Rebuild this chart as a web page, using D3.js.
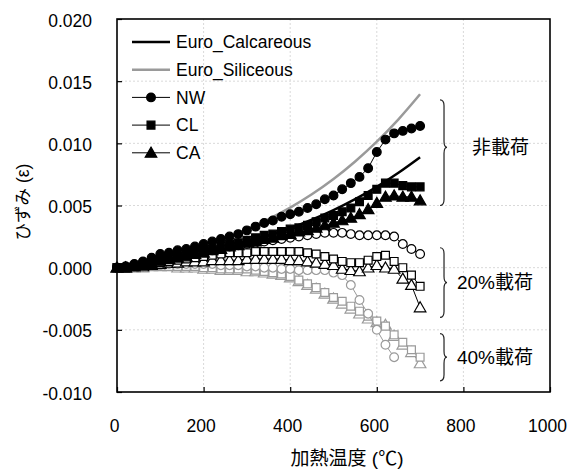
<!DOCTYPE html>
<html><head><meta charset="utf-8">
<script src="https://cdn.jsdelivr.net/npm/d3@7"></script>
<style>
html,body{margin:0;padding:0;background:#fff;}
text{font-family:"Liberation Sans",Arial,"Noto Sans CJK JP",sans-serif;}
</style></head>
<body><svg id="chart" width="573" height="470"></svg>
<script>
// ---- data ----
const temps = [0,20,40,60,80,100,120,140,160,180,200,220,240,260,280,300,320,340,360,380,400,420,440,460,480,500,520,540,560,580,600,620,640,660,680,700];
const euroTemps = [20,50,100,150,200,250,300,350,400,450,500,550,600,650,700];
const euroCalcareous = [0.0000,0.00018,0.00049,0.00083,0.00119,0.00160,0.00206,0.00258,0.00318,0.00386,0.00463,0.00551,0.00650,0.00763,0.00888];
const euroSiliceous  = [-0.00006,0.00021,0.00068,0.00119,0.00174,0.00237,0.00308,0.00390,0.00483,0.00590,0.00713,0.00854,0.01013,0.01193,0.01395];

const nw0  = [0,0.0001,0.0003,0.0005,0.0008,0.0011,0.0012,0.0014,0.0015,0.0017,0.0019,0.0021,0.0023,0.0025,0.0027,0.0030,0.0033,0.0036,0.0038,0.0041,0.0043,0.0045,0.0048,0.0051,0.0055,0.0058,0.0063,0.0068,0.0073,0.0080,0.0093,0.0103,0.0108,0.0110,0.0112,0.0114];
const cl0  = [0,0,0.0001,0.0002,0.0004,0.0006,0.0008,0.0009,0.0011,0.0012,0.0014,0.0015,0.0017,0.0019,0.0020,0.0022,0.0024,0.0026,0.0027,0.0029,0.0031,0.0032,0.0034,0.0037,0.0040,0.0042,0.0045,0.0048,0.0053,0.0058,0.0063,0.0068,0.0068,0.0066,0.0065,0.0065];
const ca0  = [0,0,0.0001,0.0002,0.0003,0.0005,0.0007,0.0008,0.0009,0.0011,0.0012,0.0014,0.0015,0.0017,0.0018,0.0020,0.0021,0.0023,0.0024,0.0026,0.0027,0.0029,0.0030,0.0032,0.0034,0.0036,0.0038,0.0040,0.0043,0.0047,0.0052,0.0057,0.0058,0.0057,0.0057,0.0054];
const nw20 = [0,0.0001,0.0002,0.0004,0.0006,0.0008,0.0009,0.0010,0.0011,0.0012,0.0013,0.0014,0.0016,0.0017,0.0018,0.0019,0.0020,0.0021,0.0022,0.0023,0.0024,0.0025,0.0026,0.0027,0.0028,0.0028,0.0028,0.0027,0.0026,0.0026,0.0026,0.0026,0.0025,0.0019,0.0015,0.0011];
const cl20 = [0,0,0.0001,0.0002,0.0003,0.0004,0.0005,0.0006,0.0007,0.0008,0.0009,0.0010,0.0011,0.0012,0.0012,0.0012,0.0013,0.0013,0.0013,0.0013,0.0013,0.0013,0.0012,0.0011,0.0009,0.0007,0.0005,0.0004,0.0004,0.0006,0.0009,0.0010,0.0005,0.0000,-0.0006,-0.0015];
const ca20 = [0,0,0.0001,0.0001,0.0002,0.0003,0.0004,0.0004,0.0005,0.0005,0.0005,0.0006,0.0006,0.0006,0.0006,0.0007,0.0007,0.0007,0.0007,0.0007,0.0006,0.0006,0.0005,0.0004,0.0003,0.0002,-0.0001,-0.0002,-0.0003,0.0000,0.0002,0.0000,-0.0001,-0.0009,-0.0014,-0.0032];
const nw40 = [0,0,0.0001,0.0001,0.0002,0.0002,0.0003,0.0003,0.0003,0.0003,0.0003,0.0003,0.0002,0.0002,0.0002,0.0001,0.0001,0.0000,0.0000,-0.0001,-0.0001,-0.0002,-0.0002,-0.0002,-0.0002,-0.0004,-0.0006,-0.0014,-0.0026,-0.0037,-0.0050,-0.0062,-0.0072];
const cl40 = [0,0,0,0.0001,0.0001,0.0001,0.0001,0.0001,0.0001,0.0001,0.0000,0.0000,-0.0001,-0.0001,-0.0001,-0.0001,-0.0002,-0.0003,-0.0004,-0.0005,-0.0007,-0.0010,-0.0013,-0.0016,-0.0020,-0.0024,-0.0027,-0.0031,-0.0035,-0.0039,-0.0043,-0.0047,-0.0054,-0.0060,-0.0066,-0.0072];
const ca40 = [0,0,0,0,0.0001,0.0001,0.0001,0.0000,0.0000,0.0000,-0.0001,-0.0001,-0.0002,-0.0002,-0.0002,-0.0003,-0.0003,-0.0004,-0.0005,-0.0006,-0.0008,-0.0011,-0.0014,-0.0017,-0.0021,-0.0025,-0.0029,-0.0033,-0.0037,-0.0041,-0.0044,-0.0046,-0.0055,-0.0062,-0.0068,-0.0077];

const xTicks = [0,200,400,600,800,1000];
const yTicks = [-0.010,-0.005,0.000,0.005,0.010,0.015,0.020];
const legendLabels = ["Euro_Calcareous","Euro_Siliceous","NW","CL","CA"];
const braceLabels = ["非載荷","20%載荷","40%載荷"];
const braceTop = [0.0135,0.0016,-0.0053];
const braceBottom = [0.0050,-0.0040,-0.0091];

// ---- layout ----
const svg = d3.select("#chart");
const L = 117, R = 550, T = 19, B = 392;
const x = d3.scaleLinear().domain([0,1000]).range([L,R]);
const y = d3.scaleLinear().domain([-0.010,0.020]).range([B,T]);
const GRAY = "#9a9a9a";

// gridlines
const grid = svg.append("g");
grid.selectAll("line.gx").data(xTicks.slice(1,-1)).join("line")
  .attr("x1",d=>x(d)).attr("x2",d=>x(d)).attr("y1",T).attr("y2",B)
  .attr("stroke","#d9d9d9").attr("stroke-width",1).attr("stroke-dasharray","2,2");
grid.selectAll("line.gy").data(yTicks.slice(1,-1)).join("line")
  .attr("x1",L).attr("x2",R).attr("y1",d=>y(d)).attr("y2",d=>y(d))
  .attr("stroke","#d9d9d9").attr("stroke-width",1).attr("stroke-dasharray","2,2");

// axes
const fmt = d3.format(".3f");
const xAxis = svg.append("g").attr("transform",`translate(0,${B})`)
  .call(d3.axisBottom(x).tickValues(xTicks).tickSizeInner(-5).tickSizeOuter(0).tickPadding(28).tickFormat(d3.format("d")));
const yAxis = svg.append("g").attr("transform",`translate(${L},0)`)
  .call(d3.axisLeft(y).tickValues(yTicks).tickSizeInner(-5).tickSizeOuter(0).tickPadding(25)
    .tickFormat(d=>fmt(d).replace("\u2212","-")));
[xAxis,yAxis].forEach(g=>{
  g.select(".domain").remove();
  g.selectAll(".tick line").attr("stroke","#000").attr("stroke-width",1.2);
  g.selectAll("text").attr("font-size",17.5).attr("fill","#000");
});
xAxis.selectAll(".tick text").attr("dx",-3);
yAxis.selectAll(".tick text").attr("dy","0.4em");

// frame
svg.append("rect").attr("x",L).attr("y",T).attr("width",R-L).attr("height",B-T)
  .attr("fill","none").attr("stroke","#000").attr("stroke-width",1.6);

// titles
svg.append("text").attr("x",347).attr("y",465).attr("text-anchor","middle")
  .attr("font-size",19).text("加熱温度 (℃)");
svg.append("text").attr("transform","translate(29,202) rotate(-90)").attr("text-anchor","middle")
  .attr("font-size",17.5).text("ひずみ (ε)");

// Euro curves
const euroLine = d3.line().x((d,i)=>x(euroTemps[i])).y(d=>y(d)).curve(d3.curveMonotoneX);
svg.append("path").datum(euroSiliceous).attr("d",euroLine).attr("fill","none").attr("stroke",GRAY).attr("stroke-width",2.5);
svg.append("path").datum(euroCalcareous).attr("d",euroLine).attr("fill","none").attr("stroke","#000").attr("stroke-width",2.5);

// marker series
const series = [
  {v:ca40, shape:"tri", color:GRAY, fill:"#fff"},
  {v:cl40, shape:"sq", color:GRAY, fill:"#fff"},
  {v:nw40, shape:"circ", color:GRAY, fill:"#fff"},
  {v:ca20, shape:"tri", color:"#000", fill:"#fff"},
  {v:cl20, shape:"sq", color:"#000", fill:"#fff"},
  {v:nw20, shape:"circ", color:"#000", fill:"#fff"},
  {v:ca0, shape:"tri", color:"#000", fill:"#000"},
  {v:cl0, shape:"sq", color:"#000", fill:"#000"},
  {v:nw0, shape:"circ", color:"#000", fill:"#000"}
];
const symType = {circ:d3.symbolCircle, sq:d3.symbolSquare, tri:d3.symbolTriangle};
const symSize = {circ:60, sq:62, tri:58};
const line = d3.line().x((d,i)=>x(temps[i])).y(d=>y(d));
function drawSym(g, shape, color, fill){
  return g.attr("d", d3.symbol().type(symType[shape]).size(symSize[shape]))
    .attr("fill",fill).attr("stroke",color).attr("stroke-width",1.2);
}
series.forEach(s=>{
  const g = svg.append("g");
  g.append("path").datum(s.v).attr("d",line).attr("fill","none").attr("stroke",s.color).attr("stroke-width",1);
  g.selectAll("path.m").data(s.v).join("path").attr("class","m")
    .attr("transform",(d,i)=>`translate(${x(temps[i])},${y(d)+(s.shape==="tri"?1:0)})`)
    .call(sel=>drawSym(sel,s.shape,s.color,s.fill));
});

// legend
const lg = svg.append("g");
const legendItems = [
  {kind:"line", color:"#000"},
  {kind:"line", color:GRAY},
  {kind:"sym", shape:"circ"},
  {kind:"sym", shape:"sq"},
  {kind:"sym", shape:"tri"}
];
legendItems.forEach((it,i)=>{
  const yy = 42 + i*27.7;
  if(it.kind==="line"){
    lg.append("line").attr("x1",132).attr("x2",170).attr("y1",yy).attr("y2",yy)
      .attr("stroke",it.color).attr("stroke-width",2.5);
  } else {
    lg.append("line").attr("x1",132).attr("x2",170).attr("y1",yy).attr("y2",yy)
      .attr("stroke","#000").attr("stroke-width",1);
    lg.append("path").attr("transform",`translate(151,${yy+(it.shape==="tri"?1:0)})`)
      .call(sel=>drawSym(sel,it.shape,"#000","#000"));
  }
  lg.append("text").attr("x",176).attr("y",yy).attr("dy","0.36em").attr("font-size",17.5).text(legendLabels[i]);
});

// braces
const bx = x(746);
function bracePath(x0, y1, y2, ym){
  const w = 4, tip = 7, r = 6;
  return `M${x0},${y1} Q${x0+w},${y1} ${x0+w},${y1+r} L${x0+w},${ym-r} Q${x0+w},${ym} ${x0+tip},${ym}` +
         ` Q${x0+w},${ym} ${x0+w},${ym+r} L${x0+w},${y2-r} Q${x0+w},${y2} ${x0},${y2}`;
}
braceLabels.forEach((lab,i)=>{
  const y1 = y(braceTop[i]), y2 = y(braceBottom[i]);
  const ym = i===0 ? y1 + (y2-y1)*0.45 : (y1+y2)/2;
  svg.append("path").attr("d",bracePath(bx,y1,y2,ym)).attr("fill","none").attr("stroke","#222").attr("stroke-width",1.2);
  svg.append("text").attr("x", i===0 ? x(820) : x(785)).attr("y",ym).attr("dy","0.36em")
    .attr("font-size",19).text(lab);
});
</script>
</body></html>
